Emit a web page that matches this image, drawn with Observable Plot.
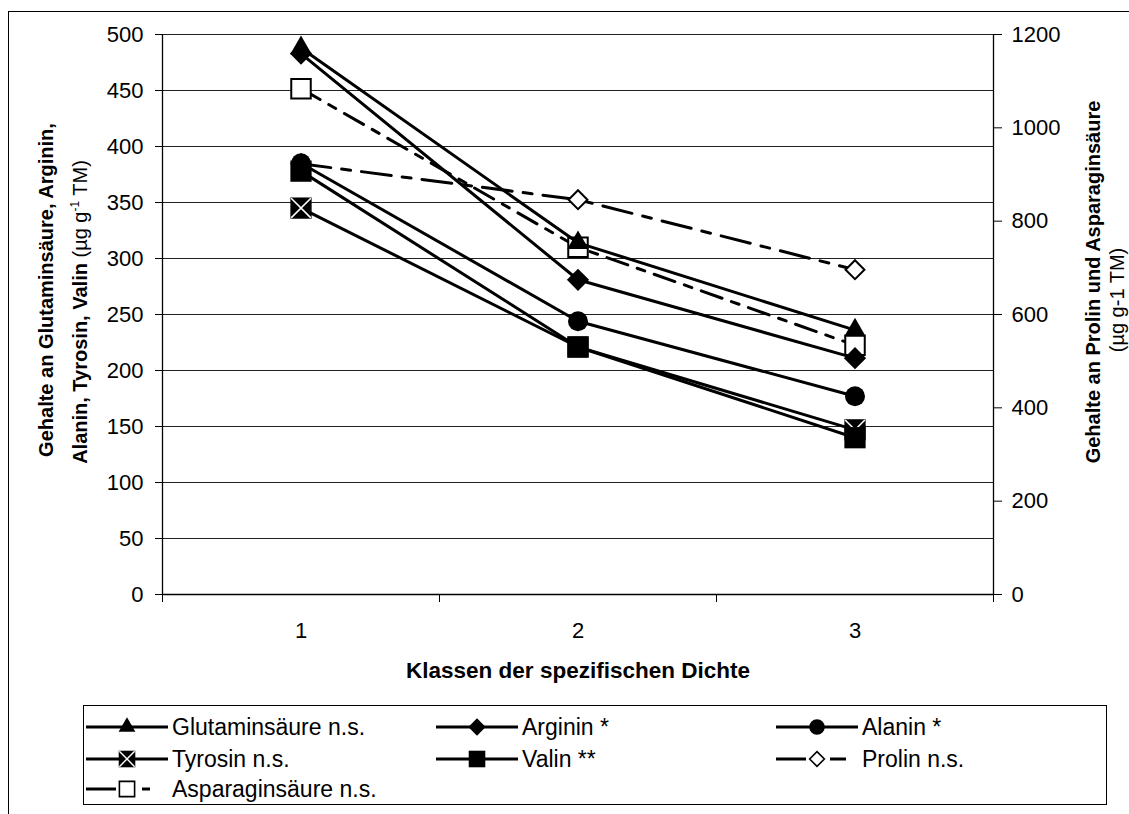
<!DOCTYPE html>
<html><head><meta charset="utf-8">
<script src="https://cdn.jsdelivr.net/npm/d3@7"></script>
<script src="https://cdn.jsdelivr.net/npm/@observablehq/plot@0.6"></script>
<style>
body{margin:0;background:#fff;font-family:"Liberation Sans",Arial,sans-serif;color:#000;}
#wrap{position:relative;width:1129px;height:814px;overflow:hidden;}
#wrap svg.plot{position:absolute;left:0;top:0;}
.frame{position:absolute;left:8px;top:11px;width:1300px;height:1000px;border-left:1.5px solid #000;border-top:1.5px solid #000;}
.rot{position:absolute;white-space:nowrap;transform:translate(-50%,-50%) rotate(-90deg);font-size:20px;line-height:1;}
.xt{position:absolute;white-space:nowrap;transform:translate(-50%,-50%);font-size:22.5px;font-weight:bold;}
.legend{position:absolute;left:83px;top:705px;width:1024px;height:100px;border:1.5px solid #000;box-sizing:border-box;}
.li{position:absolute;display:flex;align-items:center;height:30px;font-size:23px;white-space:nowrap;}
.li svg{margin-right:4px;}
sup{font-size:0.6em;vertical-align:0.7em;line-height:0;}
</style></head><body>
<div id="wrap"><div class="frame"></div></div>
<script>
// ---- data ----
const classes = [1, 2, 3];
const glutamin = [488, 314, 236];
const arginin = [483, 281, 211];
const alanin = [385, 244, 177];
const tyrosin = [345, 221, 147];
const valin = [378, 221, 140];
const prolin = [923, 846, 696];
const asparagin = [1084, 744, 534];
const leftTicks = [0, 50, 100, 150, 200, 250, 300, 350, 400, 450, 500];
const rightTicks = [0, 200, 400, 600, 800, 1000, 1200];
const seriesNames = ["Glutaminsäure n.s.", "Arginin *", "Alanin *", "Tyrosin n.s.", "Valin **", "Prolin n.s.", "Asparaginsäure n.s."];
const xTitle = "Klassen der spezifischen Dichte";

const ratio = rightTicks[rightTicks.length - 1] / leftTicks[leftTicks.length - 1];
const edges = [...classes.map(c => c - 0.5), classes[classes.length - 1] + 0.5];

const series = [
  {name: seriesNames[0], values: glutamin, right: false, symbol: "triangle", fill: "black", r: 8, dash: null, z: 5},
  {name: seriesNames[1], values: arginin, right: false, symbol: "diamond2", fill: "black", r: 10, dash: null, z: 4},
  {name: seriesNames[2], values: alanin, right: false, symbol: "circle", fill: "black", r: 10, dash: null, z: 3},
  {name: seriesNames[3], values: tyrosin, right: false, symbol: "square", fill: "black", r: 12, dash: null, cross: true, z: 1},
  {name: seriesNames[4], values: valin, right: false, symbol: "square", fill: "black", r: 12, dash: null, z: 2},
  {name: seriesNames[5], values: prolin, right: true, symbol: "diamond2", fill: "white", r: 8.5, dash: "30,11,9,11", legendDash: "30,24,16,12", z: 0},
  {name: seriesNames[6], values: asparagin, right: true, symbol: "square", fill: "white", r: 11, dash: "22,10,8,10", legendDash: "30,26,8,18", z: 0}
];
const rows = series.flatMap(s => classes.map((c, i) => ({series: s.name, x: c, y: s.right ? s.values[i] / ratio : s.values[i]})));
const of = s => rows.filter(d => d.series === s.name);

const marks = [
  Plot.ruleY(leftTicks.slice(1), {stroke: "#222", strokeWidth: 1}),
  Plot.ruleX([edges[0], edges[edges.length - 1]], {stroke: "#000", strokeWidth: 1.3}),
  Plot.ruleY([0], {stroke: "#000", strokeWidth: 1.3}),
  Plot.axisY({ticks: leftTicks, anchor: "left", tickSize: 7, tickPadding: 12, label: null, fontSize: 22}),
  Plot.axisY({ticks: rightTicks.map(v => v / ratio), anchor: "right", tickSize: 8, tickPadding: 10, label: null, fontSize: 22,
    tickFormat: d => String(Math.round(d * ratio))}),
  Plot.axisX({ticks: edges, anchor: "bottom", tickSize: 8, tickFormat: () => "", label: null}),
  Plot.axisX({ticks: classes, anchor: "bottom", tickSize: 0, tickPadding: 28, label: null, fontSize: 22, tickFormat: d => String(d)})
];
const addDots = s => {
  marks.push(Plot.dot(of(s), {x: "x", y: "y", symbol: () => s.symbol, r: s.r, fill: s.fill, stroke: "black", strokeWidth: s.fill === "white" ? 2 : 0}));
  if (s.cross) marks.push(Plot.dot(of(s), {x: "x", y: "y", symbol: () => "times", r: 9, stroke: "white", strokeWidth: 1.6}));
};
// dashed lines + open markers first, then solid lines, then filled markers
for (const s of series.filter(s => s.dash)) marks.push(Plot.line(of(s), {x: "x", y: "y", stroke: "black", strokeWidth: 3, strokeDasharray: s.dash}));
for (const s of series.filter(s => s.dash)) addDots(s);
for (const s of series.filter(s => !s.dash)) marks.push(Plot.line(of(s), {x: "x", y: "y", stroke: "black", strokeWidth: 3}));
for (const s of series.filter(s => !s.dash).sort((a, b) => a.z - b.z)) addDots(s);

const chart = Plot.plot({
  width: 1129, height: 814,
  marginLeft: 162, marginRight: 136, marginTop: 34, marginBottom: 220,
  x: {domain: [edges[0], edges[edges.length - 1]], axis: null},
  y: {domain: [leftTicks[0], leftTicks[leftTicks.length - 1]], axis: null},
  symbol: {type: "identity"},
  style: {fontFamily: "'Liberation Sans', Arial, sans-serif", fontSize: "22px", color: "#000", background: "transparent", overflow: "visible"},
  marks
});
chart.classList.add("plot");
const wrap = document.getElementById("wrap");
wrap.appendChild(chart);

// titles
function addDiv(cls, x, y, html) {
  const d = document.createElement("div");
  d.className = cls; d.style.left = x + "px"; d.style.top = y + "px"; d.innerHTML = html;
  wrap.appendChild(d);
}
addDiv("rot", 46, 290, "<b>Gehalte an Glutaminsäure, Arginin,</b>");
addDiv("rot", 80, 312, "<b>Alanin, Tyrosin, Valin</b> (µg g<sup>-1</sup> TM)");
addDiv("rot", 1093, 282, "<b>Gehalte an Prolin und Asparaginsäure</b>");
addDiv("rot", 1117, 300, "(µg g-1 TM)");
addDiv("xt", 578, 671, xTitle);

// legend
const leg = document.createElement("div"); leg.className = "legend"; wrap.appendChild(leg);
const symType = {triangle: d3.symbolTriangle, diamond2: d3.symbolDiamond2, circle: d3.symbolCircle, square: d3.symbolSquare, times: d3.symbolTimes};
const colX = [2, 352, 692];
const rowY = [6, 38, 68];
series.forEach((s, i) => {
  const item = document.createElement("div"); item.className = "li";
  item.style.left = colX[i % 3] + "px"; item.style.top = rowY[Math.floor(i / 3)] + "px";
  const W = 82, Hh = 30;
  const svg = d3.create("svg").attr("width", W).attr("height", Hh);
  const line = svg.append("line").attr("x1", 0).attr("x2", W).attr("y1", Hh / 2).attr("y2", Hh / 2).attr("stroke", "black").attr("stroke-width", 3);
  if (s.dash) line.attr("stroke-dasharray", s.legendDash);
  const rr = s.r * 0.78;
  svg.append("path").attr("transform", `translate(${W / 2},${Hh / 2})`)
    .attr("d", d3.symbol(symType[s.symbol], Math.PI * rr * rr)())
    .attr("fill", s.fill).attr("stroke", "black").attr("stroke-width", s.fill === "white" ? 1.6 : 0);
  if (s.cross) svg.append("path").attr("transform", `translate(${W / 2},${Hh / 2})`)
    .attr("d", d3.symbol(d3.symbolTimes, Math.PI * 7 * 7)()).attr("stroke", "white").attr("stroke-width", 1.4).attr("fill", "none");
  item.appendChild(svg.node());
  const t = document.createElement("span"); t.textContent = s.name; item.appendChild(t);
  leg.appendChild(item);
});
</script>
</body></html>
